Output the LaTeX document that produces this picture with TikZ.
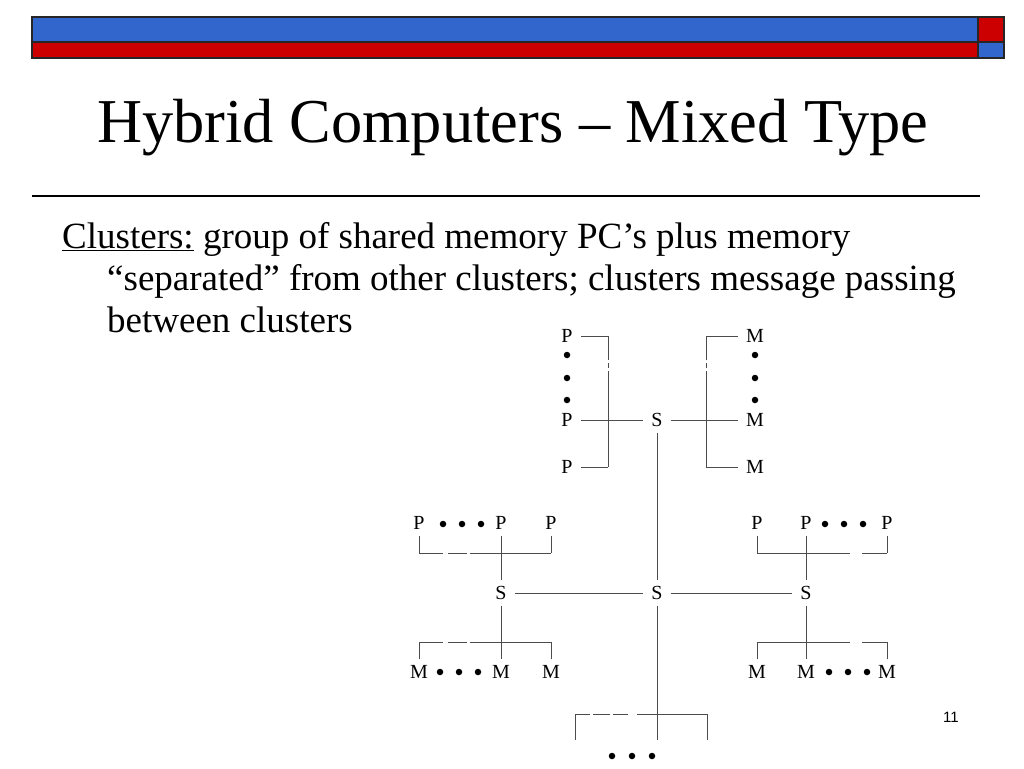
\documentclass[tikz,border=0pt]{standalone}
\usepackage{fontspec}
\setmainfont{Liberation Serif}
\newfontfamily\pagenumfont{Liberation Sans}
\usepackage{tikz}
\usetikzlibrary{positioning}
\definecolor{slblue}{HTML}{3366CC}
\definecolor{slred}{HTML}{CC0000}
\tikzset{
  lblnode/.style={inner xsep=8pt,inner ysep=6pt,font=\fontsize{20}{20}\selectfont},
  dotmark/.style={circle,fill=black,inner sep=0pt,minimum size=6.5pt},
  busline/.style={black!70,line width=1pt},
  barbox/.style={draw=black!85,line width=1.2pt},
  txtline/.style={anchor=base west,inner sep=0pt,font=\fontsize{37}{37}\selectfont},
}

\begin{document}
\begin{tikzpicture}[x=1pt,y=-1pt]
    \useasboundingbox (0,0) rectangle (1024,768);
    % header bars
    \filldraw[barbox,fill=slblue] (32,17) rectangle (978,42);
    \filldraw[barbox,fill=slred] (32,42) rectangle (978,58);
    \filldraw[barbox,fill=slred] (978,17) rectangle (1004,42);
    \filldraw[barbox,fill=slblue] (978,42) rectangle (1004,58);
    \node[anchor=base west,inner sep=0pt,font=\fontsize{62.4}{62.4}\selectfont] (title) at (97,142) {Hybrid Computers -- Mixed Type};
    \draw[line width=1.3pt] (32,196) -- (980,196);
    \node[txtline] (t1) at (62,248) {\underline{Clusters:} group of shared memory PC’s plus memory};
    \node[txtline] (t2) at (107,290) {“separated” from other clusters; clusters message passing};
    \node[txtline] (t3) at (107,332) {between clusters};
    \node[font=\pagenumfont\fontsize{15}{15}\selectfont] (pnum) at (951,717) {11};

    % top cluster
    \node[lblnode] (p1) at (567,336) {P};
    \node[lblnode] (p2) at (567,420) {P};
    \node[lblnode] (p3) at (567,467) {P};
    \node[lblnode] (s0) at (657,420) {S};
    \node[lblnode] (m1) at (755,336) {M};
    \node[lblnode] (m2) at (755,420) {M};
    \node[lblnode] (m3) at (755,467) {M};
    \foreach \y in {355,378,400} {
      \node[dotmark] at (567,\y) {};
      \node[dotmark] at (755,\y) {};
    }
    \coordinate (lb1) at (608,336);
    \coordinate (lb3) at (608,467);
    \coordinate (rb1) at (706,336);
    \coordinate (rb3) at (706,467);
    \draw[busline,dash pattern=on 24pt off 3pt on 5pt off 3pt on 200pt] (lb1) -- (lb3);
    \draw[busline,dash pattern=on 24pt off 3pt on 5pt off 3pt on 200pt] (rb1) -- (rb3);
    \draw[busline] (p1) -- (lb1);
    \draw[busline] (p3) -- (lb3);
    \draw[busline] (p2) -- (s0);
    \draw[busline] (m1) -- (rb1);
    \draw[busline] (m3) -- (rb3);
    \draw[busline] (s0) -- (m2);

    % middle row
    \node[lblnode] (sl) at (501,593) {S};
    \node[lblnode] (sc) at (657,593) {S};
    \node[lblnode] (sr) at (806,593) {S};
    \draw[busline] (s0) -- (sc);
    \draw[busline] (sl) -- (sc);
    \draw[busline] (sc) -- (sr);

    % left cluster
    \node[lblnode] (lp1) at (419,523) {P};
    \node[lblnode] (lp2) at (501,523) {P};
    \node[lblnode] (lp3) at (551,523) {P};
    \node[lblnode] (lm1) at (419,672) {M};
    \node[lblnode] (lm2) at (501,672) {M};
    \node[lblnode] (lm3) at (551,672) {M};
    \foreach \x in {443,462,481} \node[dotmark] at (\x,524) {};
    \foreach \x in {440,459,478} \node[dotmark] at (\x,672) {};
    \coordinate (lt1) at (419,553);
    \coordinate (lt3) at (551,553);
    \coordinate (ld1) at (419,642);
    \coordinate (ld3) at (551,642);
    \draw[busline,dash pattern=on 24pt off 5pt on 19pt off 3pt on 200pt] (lt1) -- (lt3);
    \draw[busline,dash pattern=on 24pt off 5pt on 19pt off 3pt on 200pt] (ld1) -- (ld3);
    \draw[busline] (lp1) -- (lt1);
    \draw[busline] (lp3) -- (lt3);
    \draw[busline] (lp2) -- (sl);
    \draw[busline] (lm1) -- (ld1);
    \draw[busline] (lm3) -- (ld3);
    \draw[busline] (sl) -- (lm2);

    % right cluster
    \node[lblnode] (rp1) at (757,523) {P};
    \node[lblnode] (rp2) at (806,523) {P};
    \node[lblnode] (rp3) at (887,523) {P};
    \node[lblnode] (rm1) at (757,672) {M};
    \node[lblnode] (rm2) at (806,672) {M};
    \node[lblnode] (rm3) at (887,672) {M};
    \foreach \x in {825,844,863} \node[dotmark] at (\x,524) {};
    \foreach \x in {829,848,867} \node[dotmark] at (\x,672) {};
    \coordinate (rt1) at (757,553);
    \coordinate (rt3) at (887,553);
    \coordinate (rd1) at (757,642);
    \coordinate (rd3) at (887,642);
    \draw[busline,dash pattern=on 93pt off 12pt on 100pt] (rt1) -- (rt3);
    \draw[busline,dash pattern=on 93pt off 12pt on 100pt] (rd1) -- (rd3);
    \draw[busline] (rp1) -- (rt1);
    \draw[busline] (rp3) -- (rt3);
    \draw[busline] (rp2) -- (sr);
    \draw[busline] (rm1) -- (rd1);
    \draw[busline] (rm3) -- (rd3);
    \draw[busline] (sr) -- (rm2);

    % bottom cluster (cut off)
    \coordinate (bb1) at (575,714);
    \coordinate (bb3) at (707,714);
    \coordinate (bl) at (575,740);
    \coordinate (br) at (707,740);
    \coordinate (bt) at (657,740);
    \draw[busline] (sc) -- (bt);
    \draw[busline,dash pattern=on 15pt off 3pt on 17pt off 3pt on 15pt off 9pt on 200pt] (bb1) -- (bb3);
    \draw[busline] (bb1) -- (bl);
    \draw[busline] (bb3) -- (br);
    \foreach \x in {612,632,652} \node[dotmark] at (\x,756) {};
\end{tikzpicture}
\end{document}
